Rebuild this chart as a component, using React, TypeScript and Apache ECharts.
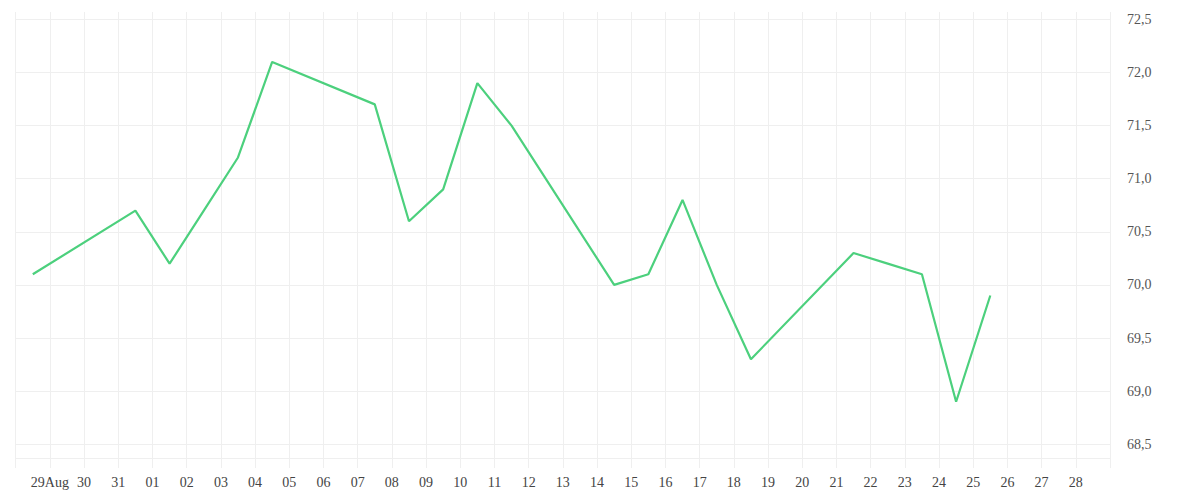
import React, { useEffect, useRef } from 'react';
import * as echarts from 'echarts';

// trading days (closing points are drawn at mid-day)
const pointDates = [
  '2020-08-28', '2020-08-31', '2020-09-01', '2020-09-02', '2020-09-03', '2020-09-04',
  '2020-09-07', '2020-09-08', '2020-09-09', '2020-09-10', '2020-09-11',
  '2020-09-14', '2020-09-15', '2020-09-16', '2020-09-17', '2020-09-18',
  '2020-09-21', '2020-09-22', '2020-09-23', '2020-09-24', '2020-09-25'
];
const pointValues = [
  70.1, 70.7, 70.2, 70.7, 71.2, 72.1,
  71.7, 70.6, 70.9, 71.9, 71.5,
  70.0, 70.1, 70.8, 70.0, 69.3,
  70.3, 70.2, 70.1, 68.9, 69.9
];

// day labels, one per grid line from Aug 29 to Sep 28
const dayLabels = [
  '29Aug', '30', '31', '01', '02', '03', '04', '05', '06', '07', '08', '09', '10',
  '11', '12', '13', '14', '15', '16', '17', '18', '19', '20', '21', '22', '23',
  '24', '25', '26', '27', '28'
];
const priceTicks = [68.5, 69.0, 69.5, 70.0, 70.5, 71.0, 71.5, 72.0, 72.5];

const startDay = Date.UTC(2020, 7, 28); // Aug 28
const DAY = 86400000;

const App: React.FC = () => {
  const chartRef = useRef<HTMLDivElement>(null);

  useEffect(() => {
    if (!chartRef.current) return;
    const chart = echarts.init(chartRef.current, undefined, { renderer: 'svg' });

    const data = pointDates.map((d, i) => {
      const [y, m, dd] = d.split('-').map(Number);
      const offset = (Date.UTC(y, m - 1, dd) - startDay) / DAY + 0.5;
      return [offset, pointValues[i]];
    });

    const gridColor = '#efefef';
    const textFont = 'Liberation Serif';

    chart.setOption({
      animation: false,
      grid: { left: 15.7, right: 90, top: 12, bottom: 42 },
      xAxis: {
        type: 'value',
        min: 0,
        max: dayLabels.length + 1,
        interval: 1,
        axisLine: { show: true, lineStyle: { color: gridColor, width: 1 } },
        axisTick: { show: true, length: 10, inside: false, lineStyle: { color: gridColor } },
        splitLine: { show: true, lineStyle: { color: gridColor, width: 1 } },
        axisLabel: {
          margin: 17,
          fontSize: 14,
          fontFamily: textFont,
          color: '#444',
          formatter: (v: number) => {
            const idx = Math.round(v) - 1;
            return idx >= 0 && idx < dayLabels.length ? dayLabels[idx] : '';
          }
        }
      },
      yAxis: {
        type: 'value',
        position: 'right',
        min: 68.37,
        max: 72.57,
        axisLine: { show: false },
        axisTick: { show: false, customValues: priceTicks },
        splitLine: { show: true, lineStyle: { color: gridColor, width: 1 } },
        axisLabel: {
          customValues: priceTicks,
          margin: 17,
          fontSize: 14,
          fontFamily: textFont,
          color: '#555',
          padding: [9, 0, 0, 0],
          formatter: (v: number) => v.toFixed(1).replace('.', ',')
        }
      },
      series: [
        {
          type: 'line',
          data,
          showSymbol: false,
          symbol: 'none',
          lineStyle: { color: '#4cd07d', width: 2.2 }
        }
      ]
    });

    return () => {
      chart.dispose();
    };
  }, []);

  return (
    <div
      ref={chartRef}
      style={{ position: 'absolute', left: 0, top: 0, width: '1200px', height: '500px' }}
    />
  );
};

export default App;
